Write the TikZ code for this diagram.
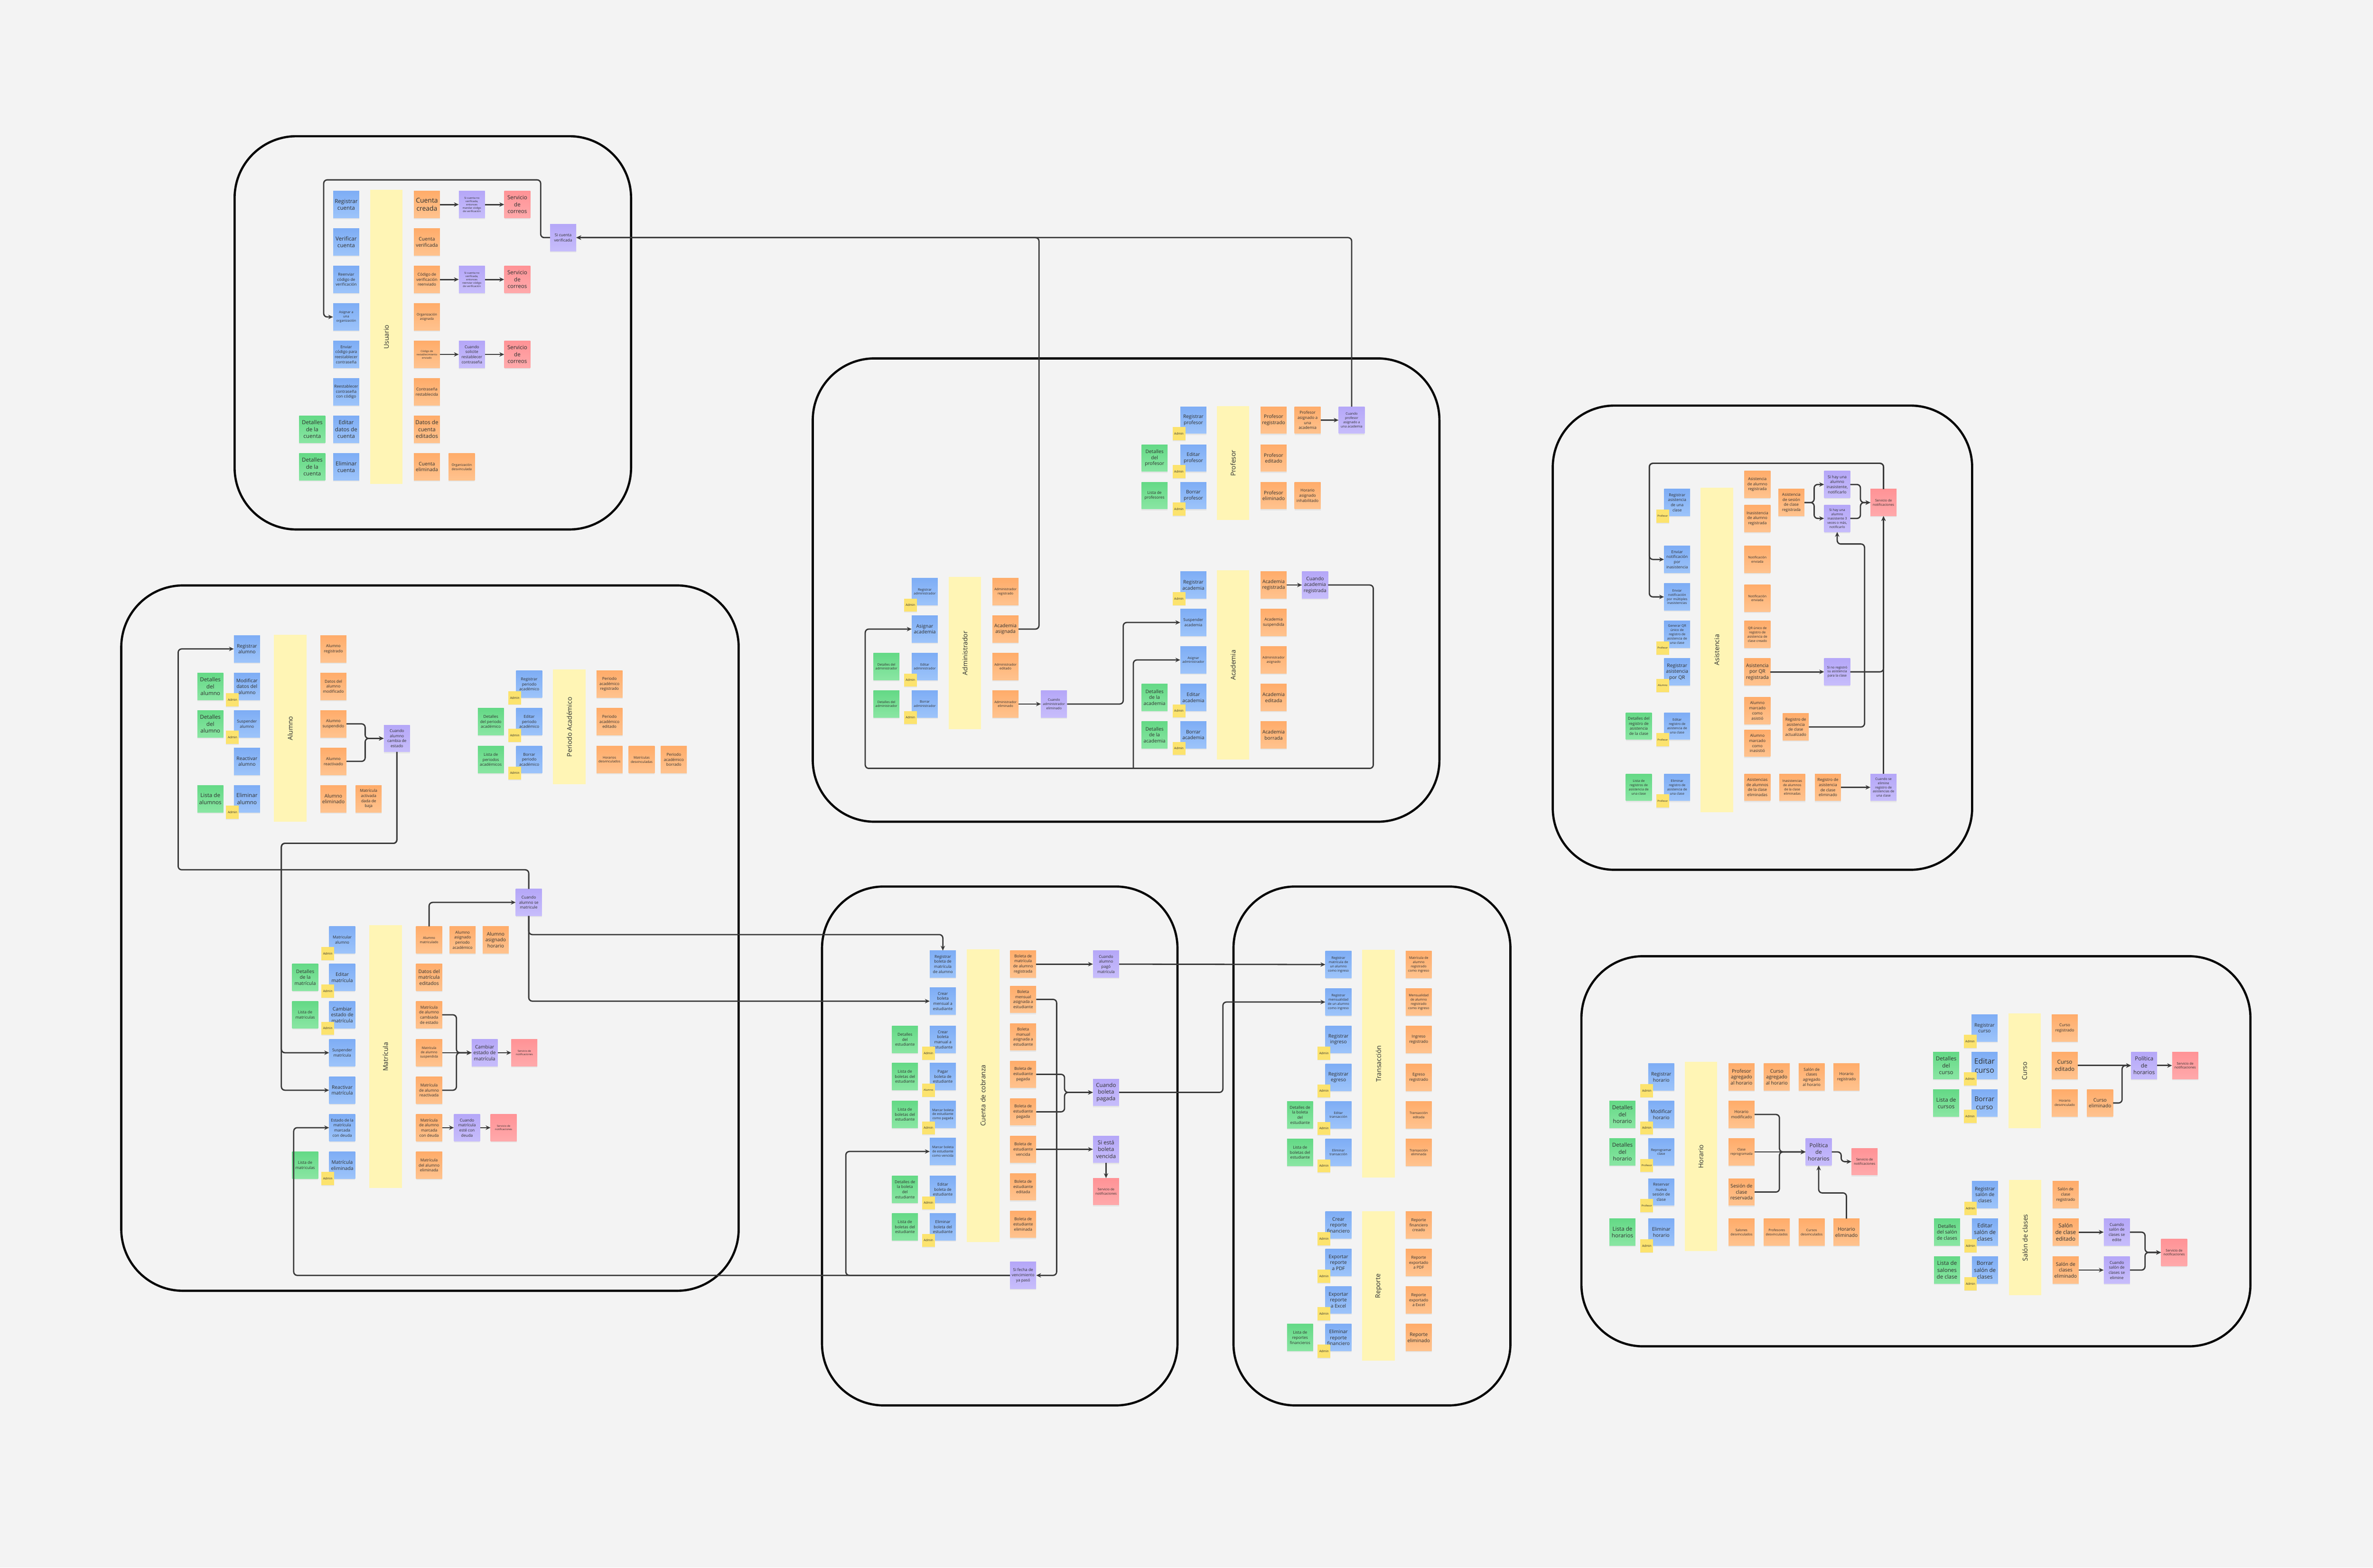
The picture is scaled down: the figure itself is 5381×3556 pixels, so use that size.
\documentclass[tikz,border=0pt]{standalone}
\usepackage{fontspec}
\setmainfont{Open Sans}
\usepackage{tikz}
\usetikzlibrary{arrows.meta, shadows}

\definecolor{bgc}{HTML}{F3F3F3}
\definecolor{cmdtop}{HTML}{7EADF5}
\definecolor{cmdbot}{HTML}{9DC4FA}
\definecolor{evttop}{HTML}{FFAC6A}
\definecolor{evtbot}{HTML}{FFC38F}
\definecolor{poltop}{HTML}{B5A7F8}
\definecolor{polbot}{HTML}{C7BDFB}
\definecolor{exttop}{HTML}{FF9396}
\definecolor{extbot}{HTML}{FFA9AB}
\definecolor{rdmtop}{HTML}{64D986}
\definecolor{rdmbot}{HTML}{8AE6A3}
\definecolor{actc}{HTML}{FCE36E}
\definecolor{lanec}{HTML}{FFF5B5}
\definecolor{linec}{HTML}{3A3A3A}
\definecolor{txtc}{HTML}{2E2E2E}

\begin{document}
\begin{tikzpicture}[x=1pt, y=-1pt, >={Stealth[length=11pt, width=10pt]},
      note/.style={minimum width=59pt, minimum height=61pt, inner sep=1pt, align=center, text=txtc,
        font=\fontsize{9}{11.5}\selectfont,
        drop shadow={shadow xshift=0pt, shadow yshift=-3pt, opacity=0.12}},
      cmd/.style={note, top color=cmdtop, bottom color=cmdbot},
      evt/.style={note, top color=evttop, bottom color=evtbot},
      pol/.style={note, top color=poltop, bottom color=polbot},
      ext/.style={note, top color=exttop, bottom color=extbot},
      rdm/.style={note, top color=rdmtop, bottom color=rdmbot},
      actor/.style={minimum width=29pt, minimum height=30pt, inner sep=0pt, fill=actc, text=txtc,
        font=\fontsize{7}{8}\selectfont, xshift=-3pt,
        drop shadow={shadow xshift=0pt, shadow yshift=-2pt, opacity=0.12}},
      lane/.style={fill=lanec, rotate=90, minimum height=74pt, inner sep=0pt, text=txtc,
        font=\fontsize{15}{18}\selectfont},
      board/.style={line width=5pt, rounded corners=140pt},
      flow/.style={->, draw=linec, line width=3pt, rounded corners=8pt},
      f0/.style={font=\fontsize{17}{20}\selectfont},
      f1/.style={font=\fontsize{15}{18.5}\selectfont},
      f2/.style={font=\fontsize{12.5}{15.5}\selectfont},
      f3/.style={font=\fontsize{11}{13.5}\selectfont},
      f5/.style={font=\fontsize{7.5}{9.5}\selectfont},
      f6/.style={font=\fontsize{6}{7.5}\selectfont}]
      \useasboundingbox (0,0) rectangle (5381,3556);
      \fill [bgc] (0,0) rectangle (5381,3556);

      \draw [board] (532,309) rectangle (1431,1201);
      \draw [board] (1843,813) rectangle (3264,1864);
      \draw [board] (3521,920) rectangle (4472,1973);
      \draw [board] (275,1328) rectangle (1675,2928);
      \draw [board] (1864,2011) rectangle (2670,3188);
      \draw [board] (2797,2011) rectangle (3425,3188);
      \draw [board] (3586,2169) rectangle (5103,3054);

      \node[lane, minimum width=667pt] (lusu) at (876,764.5) {Usuario};
      \node[cmd, f2] (uc1) at (785,464) {Registrar\\cuenta};
      \node[cmd, f2] (uc2) at (785,549) {Verificar\\cuenta};
      \node[cmd] (uc3) at (785,634) {Reenviar\\código de\\verificación};
      \node[cmd, f5] (uc4) at (785,719) {Asignar a\\una\\organización};
      \node[cmd] (uc5) at (785,804) {Enviar\\código para\\reestablecer\\contraseña};
      \node[cmd] (uc6) at (785,889) {Reestablecer\\contraseña\\con código};
      \node[cmd, f2] (uc7) at (785,974) {Editar\\datos de\\cuenta};
      \node[cmd, f2] (uc8) at (785,1059) {Eliminar\\cuenta};
      \node[rdm, f2] (ur7) at (708,974) {Detalles\\de la\\cuenta};
      \node[rdm, f2] (ur8) at (708,1059) {Detalles\\de la\\cuenta};
      \node[evt, f1] (ue1) at (968,464) {Cuenta\\creada};
      \node[evt, f3] (ue2) at (968,549) {Cuenta\\verificada};
      \node[evt] (ue3) at (968,634) {Código de\\verificación\\reenviado};
      \node[evt, f5] (ue4) at (968,719) {Organización\\asignada};
      \node[evt, f6] (ue5) at (968,804) {Código de\\restablecimiento\\enviado};
      \node[evt] (ue6) at (968,889) {Contraseña\\restablecida};
      \node[evt, f2] (ue7) at (968,974) {Datos de\\cuenta\\editados};
      \node[evt, f3] (ue8) at (968,1059) {Cuenta\\eliminada};
      \node[evt, f5] (ue9) at (1047,1059) {Organización\\desvinculada};
      \node[pol, f6] (up1) at (1070,464) {Si cuenta no\\verificada,\\entonces\\mandar código\\de verificación};
      \node[pol, f6] (up3) at (1070,634) {Si cuenta no\\verificada,\\entonces\\reenviar código\\de verificación};
      \node[pol] (up5) at (1070,804) {Cuando\\solicite\\restablecer\\contraseña};
      \node[ext, f2] (ux1) at (1173,464) {Servicio\\de\\correos};
      \node[ext, f2] (ux3) at (1173,634) {Servicio\\de\\correos};
      \node[ext, f2] (ux5) at (1173,804) {Servicio\\de\\correos};
      \node[pol] (usv) at (1277,539) {Si cuenta\\verificada};

      \node[lane, minimum width=345pt] (ladm) at (2188,1481.5) {Administrador};
      \node[cmd, f5] (ac1) at (2097,1342) {Registrar\\administrador};
      \node[cmd, f3] (ac2) at (2097,1427) {Asignar\\academia};
      \node[cmd, f5] (ac3) at (2097,1512) {Editar\\administrador};
      \node[cmd, f5] (ac4) at (2097,1597) {Borrar\\administrador};
      \node[actor] (ac1a) at (ac1.south west) {Admin};
      \node[actor] (ac3a) at (ac3.south west) {Admin};
      \node[actor] (ac4a) at (ac4.south west) {Admin};
      \node[rdm, f5] (ar3) at (2010,1512) {Detalles del\\administrador};
      \node[rdm, f5] (ar4) at (2010,1597) {Detalles del\\administrador};
      \node[evt, f5] (ae1) at (2280,1342) {Administrador\\registrado};
      \node[evt, f3] (ae2) at (2280,1427) {Academia\\asignada};
      \node[evt, f5] (ae3) at (2280,1512) {Administrador\\editado};
      \node[evt, f5] (ae4) at (2280,1597) {Administrador\\eliminado};
      \node[pol, f5] (ap4) at (2390,1597) {Cuando\\administrador\\eliminado};

      \node[lane, minimum width=259pt] (lpro) at (2796,1050.5) {Profesor};
      \node[cmd, f3] (pc1) at (2706,953) {Registrar\\profesor};
      \node[cmd, f3] (pc2) at (2706,1039) {Editar\\profesor};
      \node[cmd, f3] (pc3) at (2706,1124) {Borrar\\profesor};
      \node[actor] (pc1a) at (pc1.south west) {Admin};
      \node[actor] (pc2a) at (pc2.south west) {Admin};
      \node[actor] (pc3a) at (pc3.south west) {Admin};
      \node[rdm, f3] (pr2) at (2618,1039) {Detalles\\del\\profesor};
      \node[rdm] (pr3) at (2618,1124) {Lista de\\profesores};
      \node[evt, f3] (pe1) at (2888,953) {Profesor\\registrado};
      \node[evt, f3] (pe2) at (2888,1039) {Profesor\\editado};
      \node[evt, f3] (pe3) at (2888,1124) {Profesor\\eliminado};
      \node[evt] (pe4) at (2965,953) {Profesor\\asignado a\\una\\academia};
      \node[evt] (pe5) at (2965,1124) {Horario\\asignado\\inhabilitado};
      \node[pol, f5] (pp1) at (3065,953) {Cuando\\profesor\\asignado a\\una academia};

      \node[lane, minimum width=429pt] (laca) at (2796,1508.5) {Academia};
      \node[cmd, f3] (kc1) at (2706,1327) {Registrar\\academia};
      \node[cmd] (kc2) at (2706,1412) {Suspender\\academia};
      \node[cmd, f5] (kc3) at (2706,1497) {Asignar\\administrador};
      \node[cmd, f3] (kc4) at (2706,1582) {Editar\\academia};
      \node[cmd, f3] (kc5) at (2706,1667) {Borrar\\academia};
      \node[actor] (kc1a) at (kc1.south west) {Admin};
      \node[actor] (kc4a) at (kc4.south west) {Admin};
      \node[actor] (kc5a) at (kc5.south west) {Admin};
      \node[rdm, f3] (kr4) at (2618,1582) {Detalles\\de la\\academia};
      \node[rdm, f3] (kr5) at (2618,1667) {Detalles\\de la\\academia};
      \node[evt, f3] (ke1) at (2888,1327) {Academia\\registrada};
      \node[evt] (ke2) at (2888,1412) {Academia\\suspendida};
      \node[evt, f5] (ke3) at (2888,1497) {Administrador\\asignado};
      \node[evt, f3] (ke4) at (2888,1582) {Academia\\editada};
      \node[evt, f3] (ke5) at (2888,1667) {Academia\\borrada};
      \node[pol, f3] (kp1) at (2982,1327) {Cuando\\academia\\registrada};

      \node[lane, minimum width=736pt] (lasi) at (3893,1474) {Asistencia};
      \node[cmd] (sc1) at (3803,1140) {Registrar\\asistencia\\de una\\clase};
      \node[cmd] (sc2) at (3803,1269) {Enviar\\notificación\\por\\inasistencia};
      \node[cmd, f5] (sc3) at (3803,1354) {Enviar\\notificación\\por múltiples\\inasistencias};
      \node[cmd, f5] (sc4) at (3803,1439) {Generar QR\\único de\\registro de\\asistencia de\\una clase};
      \node[cmd, f3] (sc5) at (3803,1524) {Registrar\\asistencia\\por QR};
      \node[cmd, f5] (sc6) at (3803,1647) {Editar\\registro de\\asistencia de\\una clase};
      \node[cmd, f5] (sc7) at (3803,1786) {Eliminar\\registro de\\asistencia de\\una clase};
      \node[actor, f6] (sc1a) at (sc1.south west) {Profesor};
      \node[actor, f6] (sc4a) at (sc4.south west) {Profesor};
      \node[actor, f6] (sc5a) at (sc5.south west) {Alumno};
      \node[actor, f6] (sc6a) at (sc6.south west) {Profesor};
      \node[actor, f6] (sc7a) at (sc7.south west) {Profesor};
      \node[rdm] (sr6) at (3716,1647) {Detalles del\\registro de\\asistencia\\de la clase};
      \node[rdm, f5] (sr7) at (3716,1786) {Lista de\\registros de\\asistencia de\\una clase};
      \node[evt] (se1) at (3985,1099) {Asistencia\\de alumno\\registrada};
      \node[evt] (se2) at (3985,1176) {Inasistencia\\de alumno\\registrada};
      \node[evt, f5] (se3) at (3985,1269) {Notificación\\enviada};
      \node[evt, f5] (se4) at (3985,1357) {Notificación\\enviada};
      \node[evt, f5] (se5) at (3985,1439) {QR único de\\registro de\\asistencia de\\clase creado};
      \node[evt, f3] (se6) at (3985,1524) {Asistencia\\por QR\\registrada};
      \node[evt] (se7) at (3985,1612) {Alumno\\marcado\\como\\asistió};
      \node[evt] (se8) at (3985,1686) {Alumno\\marcado\\como\\inasistió};
      \node[evt] (se9) at (3985,1786) {Asistencias\\de alumnos\\de la clase\\eliminadas};
      \node[evt] (se10) at (4062,1140) {Asistencia\\de sesión\\de clase\\registrada};
      \node[evt] (se11) at (4072,1649) {Registro de\\asistencia\\de clase\\actualizado};
      \node[evt, f5] (se12) at (4064,1786) {Inasistencias\\de alumnos\\de la clase\\eliminadas};
      \node[evt] (se13) at (4145,1786) {Registro de\\asistencia\\de clase\\eliminado};
      \node[pol] (sp1) at (4166,1099) {Si hay una\\alumno\\inasistente,\\notificarlo};
      \node[pol, f5] (sp2) at (4166,1176) {Si hay una\\alumno\\inasistente 3\\veces o más,\\notificarlo};
      \node[pol, f5] (sp3) at (4166,1524) {Si no registró\\su asistencia\\para la clase};
      \node[pol, f5] (sp4) at (4271,1786) {Cuando se\\elimine\\registro de\\asistencias de\\una clase};
      \node[ext, f5] (sx1) at (4271,1140) {Servicio de\\notificaciones};

      \node[lane, minimum width=424pt] (lalu) at (658,1652) {Alumno};
      \node[cmd, f3] (lc1) at (560,1472) {Registrar\\alumno};
      \node[cmd, f3] (lc2) at (560,1557) {Modificar\\datos del\\alumno};
      \node[cmd] (lc3) at (560,1642) {Suspender\\alumno};
      \node[cmd, f3] (lc4) at (560,1727) {Reactivar\\alumno};
      \node[cmd, f2] (lc5) at (560,1812) {Eliminar\\alumno};
      \node[actor] (lc2a) at (lc2.south west) {Admin};
      \node[actor] (lc3a) at (lc3.south west) {Admin};
      \node[actor] (lc5a) at (lc5.south west) {Admin};
      \node[rdm, f2] (lr2) at (477,1557) {Detalles\\del\\alumno};
      \node[rdm, f2] (lr3) at (477,1642) {Detalles\\del\\alumno};
      \node[rdm, f2] (lr5) at (477,1812) {Lista de\\alumnos};
      \node[evt] (le1) at (756,1472) {Alumno\\registrado};
      \node[evt] (le2) at (756,1557) {Datos del\\alumno\\modificado};
      \node[evt] (le3) at (756,1642) {Alumno\\suspendido};
      \node[evt] (le4) at (756,1727) {Alumno\\reactivado};
      \node[evt, f3] (le5) at (756,1812) {Alumno\\eliminado};
      \node[evt] (le6) at (836,1812) {Matrícula\\activada\\dada de\\baja};
      \node[pol] (lp1) at (900,1675) {Cuando\\alumno\\cambia de\\estado};

      \node[lane, minimum width=260pt] (lper) at (1291,1649) {Periodo Académico};
      \node[cmd] (qc1) at (1200,1552) {Registrar\\periodo\\académico};
      \node[cmd] (qc2) at (1200,1637) {Editar\\periodo\\académico};
      \node[cmd] (qc3) at (1200,1723) {Borrar\\periodo\\académico};
      \node[actor] (qc1a) at (qc1.south west) {Admin};
      \node[actor] (qc2a) at (qc2.south west) {Admin};
      \node[actor] (qc3a) at (qc3.south west) {Admin};
      \node[rdm] (qr2) at (1113,1637) {Detalles\\del periodo\\académico};
      \node[rdm] (qr3) at (1113,1723) {Lista de\\periodos\\académicos};
      \node[evt] (qe1) at (1382,1552) {Periodo\\académico\\registrado};
      \node[evt] (qe2) at (1382,1637) {Periodo\\académico\\editado};
      \node[evt, f5] (qe3) at (1382,1723) {Horarios\\desvinculados};
      \node[evt, f5] (qe4) at (1455,1723) {Matrículas\\desvinculadas};
      \node[evt] (qe5) at (1528,1723) {Periodo\\académico\\borrado};

      \node[lane, minimum width=596pt] (lmat) at (874,2397) {Matrícula};
      \node[cmd] (mc1) at (776,2132) {Matricular\\alumno};
      \node[cmd, f3] (mc2) at (776,2217) {Editar\\matrícula};
      \node[cmd, f3] (mc3) at (776,2302) {Cambiar\\estado de\\matrícula};
      \node[cmd] (mc4) at (776,2388) {Suspender\\matrícula};
      \node[cmd, f3] (mc5) at (776,2473) {Reactivar\\matrícula};
      \node[cmd] (mc6) at (776,2558) {Estado de la\\matrícula\\marcada\\con deuda};
      \node[cmd, f3] (mc7) at (776,2643) {Matrícula\\eliminada};
      \node[actor] (mc1a) at (mc1.south west) {Admin};
      \node[actor] (mc2a) at (mc2.south west) {Admin};
      \node[actor] (mc3a) at (mc3.south west) {Admin};
      \node[actor] (mc7a) at (mc7.south west) {Admin};
      \node[rdm, f3] (mr2) at (692,2217) {Detalles\\de la\\matrícula};
      \node[rdm] (mr3) at (692,2302) {Lista de\\matriculas};
      \node[rdm] (mr7) at (692,2643) {Lista de\\matriculas};
      \node[evt, f5] (me1) at (973,2132) {Alumno\\matriculado};
      \node[evt] (me1b) at (1049,2132) {Alumno\\asignado\\periodo\\académico};
      \node[evt, f3] (me1c) at (1124,2132) {Alumno\\asignado\\horario};
      \node[evt, f3] (me2) at (973,2217) {Datos del\\matrícula\\editados};
      \node[evt] (me3) at (973,2302) {Matrícula\\de alumno\\cambiada\\de estado};
      \node[evt, f5] (me4) at (973,2388) {Matrícula\\de alumno\\suspendida};
      \node[evt] (me5) at (973,2473) {Matrícula\\de alumno\\reactivada};
      \node[evt] (me6) at (973,2558) {Matrícula\\de alumno\\marcada\\con deuda};
      \node[evt] (me7) at (973,2643) {Matrícula\\del alumno\\eliminada};
      \node[pol] (mp1) at (1199,2047) {Cuando\\alumno se\\matricule};
      \node[pol, f3] (mp2) at (1099,2388) {Cambiar\\estado de\\matrícula};
      \node[ext, f6] (mx1) at (1189,2388) {Servicio de\\notificaciones};
      \node[pol] (mp3) at (1059,2558) {Cuando\\matrícula\\esté con\\deuda};
      \node[ext, f6] (mx2) at (1142,2558) {Servicio de\\notificaciones};

      \node[lane, minimum width=664pt] (lcob) at (2229,2485) {Cuenta de cobranza};
      \node[cmd] (bc1) at (2138,2187) {Registrar\\boleta de\\matrícula\\de alumno};
      \node[cmd] (bc2) at (2138,2271) {Crear\\boleta\\mensual a\\estudiante};
      \node[cmd] (bc3) at (2138,2358) {Crear\\boleta\\manual a\\estudiante};
      \node[cmd] (bc4) at (2138,2442) {Pagar\\boleta de\\estudiante};
      \node[cmd, f5] (bc5) at (2138,2528) {Marcar boleta\\de estudiante\\como pagada};
      \node[cmd, f5] (bc6) at (2138,2612) {Marcar boleta\\de estudiante\\como vencida};
      \node[cmd] (bc7) at (2138,2698) {Editar\\boleta de\\estudiante};
      \node[cmd] (bc8) at (2138,2783) {Eliminar\\boleta del\\estudiante};
      \node[actor] (bc3a) at (bc3.south west) {Admin};
      \node[actor, f6] (bc4a) at (bc4.south west) {Alumno};
      \node[actor] (bc5a) at (bc5.south west) {Admin};
      \node[actor] (bc7a) at (bc7.south west) {Admin};
      \node[actor] (bc8a) at (bc8.south west) {Admin};
      \node[rdm] (br3) at (2052,2358) {Detalles\\del\\estudiante};
      \node[rdm] (br4) at (2052,2442) {Lista de\\boletas del\\estudiante};
      \node[rdm] (br5) at (2052,2528) {Lista de\\boletas del\\estudiante};
      \node[rdm] (br7) at (2052,2698) {Detalles de\\la boleta\\del\\estudiante};
      \node[rdm] (br8) at (2052,2783) {Lista de\\boletas del\\estudiante};
      \node[evt] (be1) at (2320,2187) {Boleta de\\matrícula\\de alumno\\registrada};
      \node[evt] (be2) at (2320,2267) {Boleta\\mensual\\asignada a\\estudiante};
      \node[evt] (be3) at (2320,2352) {Boleta\\manual\\asignada a\\estudiante};
      \node[evt] (be4) at (2320,2437) {Boleta de\\estudiante\\pagada};
      \node[evt] (be5) at (2320,2522) {Boleta de\\estudiante\\pagada};
      \node[evt] (be6) at (2320,2607) {Boleta de\\estudiante\\vencida};
      \node[evt] (be7) at (2320,2692) {Boleta de\\estudiante\\editada};
      \node[evt] (be8) at (2320,2777) {Boleta de\\estudiante\\eliminada};
      \node[pol] (bp1) at (2508,2187) {Cuando\\alumno\\pagó\\matrícula};
      \node[pol, f2] (bp2) at (2508,2478) {Cuando\\boleta\\pagada};
      \node[pol, f2] (bp3) at (2508,2607) {Si está\\boleta\\vencida};
      \node[pol] (bp4) at (2320,2893) {Si fecha de\\vencimiento\\ya pasó};
      \node[ext, f5] (bx1) at (2508,2703) {Servicio de\\notificaciones};

      \node[lane, minimum width=516pt] (ltra) at (3126,2413) {Transacción};
      \node[cmd, f5] (tc1) at (3035,2188) {Registrar\\matrícula de\\un alumno\\como ingreso};
      \node[cmd, f5] (tc2) at (3035,2273) {Registrar\\mensualidad\\de un alumno\\como ingreso};
      \node[cmd, f3] (tc3) at (3035,2358) {Registrar\\ingreso};
      \node[cmd, f3] (tc4) at (3035,2444) {Registrar\\egreso};
      \node[cmd, f5] (tc5) at (3035,2529) {Editar\\transacción};
      \node[cmd, f5] (tc6) at (3035,2614) {Eliminar\\transacción};
      \node[actor] (tc3a) at (tc3.south west) {Admin};
      \node[actor] (tc4a) at (tc4.south west) {Admin};
      \node[actor] (tc5a) at (tc5.south west) {Admin};
      \node[actor] (tc6a) at (tc6.south west) {Admin};
      \node[rdm] (tr5) at (2948,2529) {Detalles de\\la boleta\\del\\estudiante};
      \node[rdm] (tr6) at (2948,2614) {Lista de\\boletas del\\estudiante};
      \node[evt, f5] (te1) at (3217,2188) {Matrícula de\\alumno\\registrado\\como ingreso};
      \node[evt, f5] (te2) at (3217,2273) {Mensualidad\\de alumno\\registrado\\como ingreso};
      \node[evt] (te3) at (3217,2358) {Ingreso\\registrado};
      \node[evt] (te4) at (3217,2444) {Egreso\\registrado};
      \node[evt, f5] (te5) at (3217,2529) {Transacción\\editada};
      \node[evt, f5] (te6) at (3217,2614) {Transacción\\eliminada};

      \node[lane, minimum width=340pt] (lrep) at (3126,2917) {Reporte};
      \node[cmd, f3] (rc1) at (3035,2779) {Crear\\reporte\\financiero};
      \node[cmd, f3] (rc2) at (3035,2864) {Exportar\\reporte\\a PDF};
      \node[cmd, f3] (rc3) at (3035,2949) {Exportar\\reporte\\a Excel};
      \node[cmd, f3] (rc4) at (3035,3034) {Eliminar\\reporte\\financiero};
      \node[actor] (rc1a) at (rc1.south west) {Admin};
      \node[actor] (rc2a) at (rc2.south west) {Admin};
      \node[actor] (rc3a) at (rc3.south west) {Admin};
      \node[actor] (rc4a) at (rc4.south west) {Admin};
      \node[rdm] (rr4) at (2948,3034) {Lista de\\reportes\\financieros};
      \node[evt] (re1) at (3217,2779) {Reporte\\financiero\\creado};
      \node[evt] (re2) at (3217,2864) {Reporte\\exportado\\a PDF};
      \node[evt] (re3) at (3217,2949) {Reporte\\exportado\\a Excel};
      \node[evt, f3] (re4) at (3217,3034) {Reporte\\eliminado};

      \node[lane, minimum width=429pt] (lhor) at (3857,2623.5) {Horario};
      \node[cmd, f3] (hc1) at (3767,2443) {Registrar\\horario};
      \node[cmd, f3] (hc2) at (3767,2528) {Modificar\\horario};
      \node[cmd, f5] (hc3) at (3767,2613) {Reprogramar\\clase};
      \node[cmd] (hc4) at (3767,2704) {Reservar\\nueva\\sesión de\\clase};
      \node[cmd, f3] (hc5) at (3767,2795) {Eliminar\\horario};
      \node[actor] (hc1a) at (hc1.south west) {Admin};
      \node[actor] (hc2a) at (hc2.south west) {Admin};
      \node[actor, f6] (hc3a) at (hc3.south west) {Profesor};
      \node[actor, f6] (hc4a) at (hc4.south west) {Profesor};
      \node[actor] (hc5a) at (hc5.south west) {Admin};
      \node[rdm, f2] (hr2) at (3679,2528) {Detalles\\del\\horario};
      \node[rdm, f2] (hr3) at (3679,2613) {Detalles\\del\\horario};
      \node[rdm, f2] (hr5) at (3679,2795) {Lista de\\horarios};
      \node[evt, f3] (he1) at (3949,2443) {Profesor\\agregado\\al horario};
      \node[evt, f3] (he1b) at (4029,2443) {Curso\\agregado\\al horario};
      \node[evt] (he1c) at (4108,2443) {Salón de\\clases\\agregado\\al horario};
      \node[evt] (he1d) at (4187,2443) {Horario\\registrado};
      \node[evt] (he2) at (3949,2528) {Horario\\modificado};
      \node[evt, f5] (he3) at (3949,2613) {Clase\\reprogramada};
      \node[evt, f3] (he4) at (3949,2704) {Sesión de\\clase\\reservada};
      \node[evt, f5] (he5) at (3949,2795) {Salones\\desvinculados};
      \node[evt, f5] (he5b) at (4029,2795) {Profesores\\desvinculados};
      \node[evt, f5] (he5c) at (4108,2795) {Cursos\\desvinculados};
      \node[evt, f3] (he5d) at (4187,2795) {Horario\\eliminado};
      \node[pol, f2] (hp1) at (4124,2613) {Política\\de\\horarios};
      \node[ext, f5] (hx1) at (4228,2635) {Servicio de\\notificaciones};

      \node[lane, minimum width=260pt] (lcur) at (4591,2429) {Curso};
      \node[cmd, f3] (cc1) at (4500,2332) {Registrar\\curso};
      \node[cmd, f0] (cc2) at (4500,2417) {Editar\\curso};
      \node[cmd, f1] (cc3) at (4500,2502) {Borrar\\curso};
      \node[actor] (cc1a) at (cc1.south west) {Admin};
      \node[actor] (cc2a) at (cc2.south west) {Admin};
      \node[actor] (cc3a) at (cc3.south west) {Admin};
      \node[rdm, f2] (cr2) at (4413,2417) {Detalles\\del\\curso};
      \node[rdm, f2] (cr3) at (4413,2502) {Lista de\\cursos};
      \node[evt] (ce1) at (4682,2332) {Curso\\registrado};
      \node[evt, f2] (ce2) at (4682,2417) {Curso\\editado};
      \node[evt, f5] (ce3) at (4682,2502) {Horario\\desvinculado};
      \node[evt, f3] (ce4) at (4762,2502) {Curso\\eliminado};
      \node[pol, f2] (cp1) at (4862,2417) {Política\\de\\horarios};
      \node[ext, f5] (cx1) at (4955,2417) {Servicio de\\notificaciones};

      \node[lane, minimum width=261pt] (lsal) at (4592,2807.5) {Salón de clases};
      \node[cmd, f3] (nc1) at (4501,2710) {Registrar\\salón de\\clases};
      \node[cmd, f2] (nc2) at (4501,2795) {Editar\\salón de\\clases};
      \node[cmd, f2] (nc3) at (4501,2881) {Borrar\\salón de\\clases};
      \node[actor] (nc1a) at (nc1.south west) {Admin};
      \node[actor] (nc2a) at (nc2.south west) {Admin};
      \node[actor] (nc3a) at (nc3.south west) {Admin};
      \node[rdm, f3] (nr2) at (4415,2795) {Detalles\\del salón\\de clases};
      \node[rdm, f2] (nr3) at (4415,2881) {Lista de\\salones\\de clase};
      \node[evt] (ne1) at (4684,2710) {Salón de\\clase\\registrado};
      \node[evt, f2] (ne2) at (4684,2795) {Salón\\de clase\\editado};
      \node[evt, f3] (ne3) at (4684,2881) {Salón de\\clases\\eliminado};
      \node[pol] (np1) at (4800,2795) {Cuando\\salón de\\clases se\\edite};
      \node[pol] (np2) at (4800,2881) {Cuando\\salón de\\clases se\\elimine};
      \node[ext, f5] (nx1) at (4930,2841) {Servicio de\\notificaciones};

      \draw [flow] (ue1) -- (up1);
      \draw [flow] (up1) -- (ux1);
      \draw [flow] (ue3) -- (up3);
      \draw [flow] (up3) -- (ux3);
      \draw [flow] (ue5) -- (up5);
      \draw [flow] (up5) -- (ux5);
      \draw [flow] (usv.west) -| (1226,408) -| (734,719) -- (uc4.west);
      \draw [flow] (ae2.east) -| (2356,539) -- (usv.east);
      \draw [flow] (pp1.north) |- (usv.east);

      \draw [flow] (ae4) -- (ap4);
      \draw [flow] (ap4.east) -| (2547,1412) -- (kc2.west);
      \draw [flow] (pe4) -- (pp1);
      \draw [flow] (ke1) -- (kp1);
      \draw [flow] (kp1.east) -| (3114,1743) -| (1962,1427) -- (ac2.west);
      \coordinate (kbr) at (2570,1743);
      \draw [flow] (kbr) |- (kc3.west);

      \draw [flow] (se10.east) -- ++(22,0) |- (sp1.west);
      \draw [flow] (se10.east) -- ++(22,0) |- (sp2.west);
      \draw [flow] (sp1.east) -- ++(23,0) |- (sx1.west);
      \draw [flow] (sp2.east) -- ++(23,0) |- (sx1.west);
      \draw [flow] (se11.east) -| (4228,1234) -| (sp2.south);
      \draw [flow] (se6) -- (sp3);
      \draw [flow] (sp3.east) -| (sx1.south);
      \draw [flow] (se13) -- (sp4);
      \draw [flow] (sp4) -- (sx1);
      \draw [flow] (sx1.north) |- (3740,1051) |- (sc2.west);
      \draw [flow] (sx1.north) |- (3740,1051) |- (sc3.west);

      \draw [flow] (le3.east) -| (828,1675) -- (lp1.west);
      \draw [flow] (le4.east) -| (828,1675) -- (lp1.west);
      \draw [flow] (lp1.south) |- (638,1913) |- (mc4.west);
      \draw [flow] (lp1.south) |- (638,1913) |- (mc5.west);
      \draw [flow] (mp1.north) |- (404,1973) |- (lc1.west);
      \draw [flow] (me1.north) |- (mp1.west);
      \draw [flow] (mp1.south) |- (2138,2120) -- (bc1.north);
      \draw [flow] (mp1.south) |- (bc2.west);
      \draw [flow] (me3.east) -| (1035,2388) -- (mp2.west);
      \draw [flow] (me4) -- (mp2);
      \draw [flow] (me5.east) -| (1035,2388) -- (mp2.west);
      \draw [flow] (mp2) -- (mx1);
      \draw [flow] (me6) -- (mp3);
      \draw [flow] (mp3) -- (mx2);

      \draw [flow] (be1) -- (bp1);
      \draw [flow] (bp1) -- (tc1);
      \draw [flow] (be2.east) -| (2396,2893) -- (bp4.east);
      \draw [flow] (be4.east) -| (2414,2478) -- (bp2.west);
      \draw [flow] (be5.east) -| (2414,2478) -- (bp2.west);
      \draw [flow] (bp2.east) -| (2773,2273) -- (tc2.west);
      \draw [flow] (be6) -- (bp3);
      \draw [flow] (bp3) -- (bx1);
      \draw [flow] (bp4.west) -| (666,2558) -- (mc6.west);
      \draw [flow] (bp4.west) -| (1918,2612) -- (bc6.west);

      \draw [flow] (he2.east) -| (4035,2613) -- (hp1.west);
      \draw [flow] (he3) -- (hp1);
      \draw [flow] (he4.east) -| (4035,2613) -- (hp1.west);
      \draw [flow] (hp1.east) -| (4175,2635) -- (hx1.west);
      \draw [flow] (he5d.north) |- (4124,2706) -- (hp1.south);

      \draw [flow] (ce2) -- (cp1);
      \draw [flow] (ce4.east) -| (4812,2417) -- (cp1.west);
      \draw [flow] (cp1) -- (cx1);
      \draw [flow] (ne2) -- (np1);
      \draw [flow] (ne3) -- (np2);
      \draw [flow] (np1.east) -| (4864,2841) -- (nx1.west);
      \draw [flow] (np2.east) -| (4864,2841) -- (nx1.west);
    \end{tikzpicture}
\end{document}
